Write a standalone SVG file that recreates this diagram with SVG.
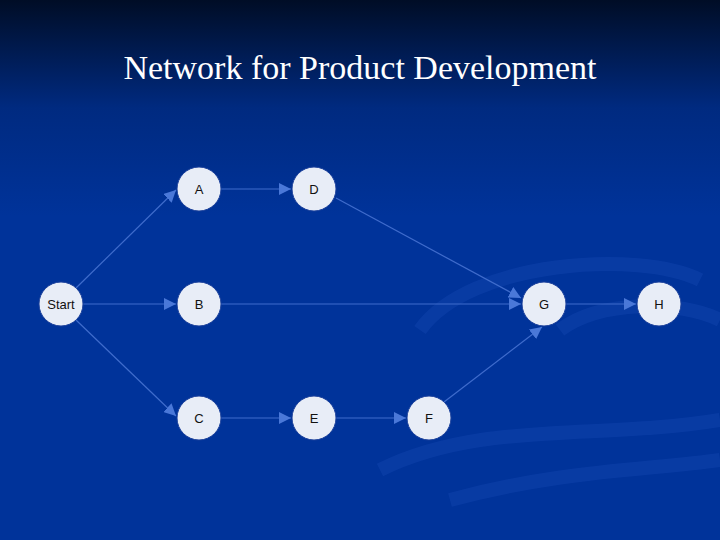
<svg xmlns="http://www.w3.org/2000/svg" width="720" height="540" viewBox="0 0 720 540">
<defs>
<linearGradient id="bg" x1="0" y1="0" x2="0" y2="1">
<stop offset="0" stop-color="#000d26"/>
<stop offset="0.2" stop-color="#002a80"/>
<stop offset="0.4" stop-color="#00339a"/>
<stop offset="1" stop-color="#00339a"/>
</linearGradient>
<marker id="ah" viewBox="0 0 10 10" refX="10" refY="5" markerWidth="4" markerHeight="4" orient="auto" markerUnits="userSpaceOnUse">
<path d="M0,0 L10,5 L0,10 z" fill="#4a78d8"/>
</marker>
<marker id="ah2" viewBox="0 0 10 10" refX="10" refY="5" markerWidth="12" markerHeight="12" orient="auto" markerUnits="userSpaceOnUse">
<path d="M0,0 L10,5 L0,10 z" fill="#4a78d8"/>
</marker>
</defs>
<style>
.n{fill:#e8edf7;stroke:#1a3f9a;stroke-width:1}
.t{font-family:"Liberation Sans",Arial,sans-serif;font-size:13px;fill:#111;text-anchor:middle}
.c line{stroke:#3f6ccc;stroke-width:1.2;marker-end:url(#ah2)}
</style>
<rect width="720" height="540" fill="url(#bg)"/>
<g fill="none" stroke="#1346b0" stroke-width="14" opacity="0.45">
<path d="M420,330 C470,260 640,250 700,280"/>
<path d="M560,330 C600,300 680,300 720,320"/>
<path d="M380,470 C480,420 600,440 720,420"/>
<path d="M450,500 C560,470 650,470 720,460"/>
</g>
<text x="360" y="79" font-family="Liberation Serif,'Times New Roman',serif" font-size="34" fill="#ffffff" text-anchor="middle">Network for Product Development</text>
<g class="c">
<line x1="76" y1="288" x2="176" y2="190"/>
<line x1="83" y1="304" x2="176" y2="304"/>
<line x1="76" y1="320" x2="176" y2="416"/>
<line x1="221" y1="189" x2="291" y2="189"/>
<line x1="336" y1="198" x2="521" y2="298"/>
<line x1="221" y1="304" x2="521" y2="304"/>
<line x1="221" y1="418" x2="291" y2="418"/>
<line x1="336" y1="418" x2="406" y2="418"/>
<line x1="444" y1="402" x2="542" y2="327"/>
<line x1="566" y1="304" x2="636" y2="304"/>
</g>
<g id="Start"><circle class="n" cx="61" cy="304" r="22"/><text class="t" x="61" y="309">Start</text></g>
<g id="A"><circle class="n" cx="199" cy="189" r="22"/><text class="t" x="199" y="194">A</text></g>
<g id="D"><circle class="n" cx="314" cy="189" r="22"/><text class="t" x="314" y="194">D</text></g>
<g id="B"><circle class="n" cx="199" cy="304" r="22"/><text class="t" x="199" y="309">B</text></g>
<g id="G"><circle class="n" cx="544" cy="304" r="22"/><text class="t" x="544" y="309">G</text></g>
<g id="H"><circle class="n" cx="659" cy="304" r="22"/><text class="t" x="659" y="309">H</text></g>
<g id="C"><circle class="n" cx="199" cy="418" r="22"/><text class="t" x="199" y="423">C</text></g>
<g id="E"><circle class="n" cx="314" cy="418" r="22"/><text class="t" x="314" y="423">E</text></g>
<g id="F"><circle class="n" cx="429" cy="418" r="22"/><text class="t" x="429" y="423">F</text></g>
</svg>
